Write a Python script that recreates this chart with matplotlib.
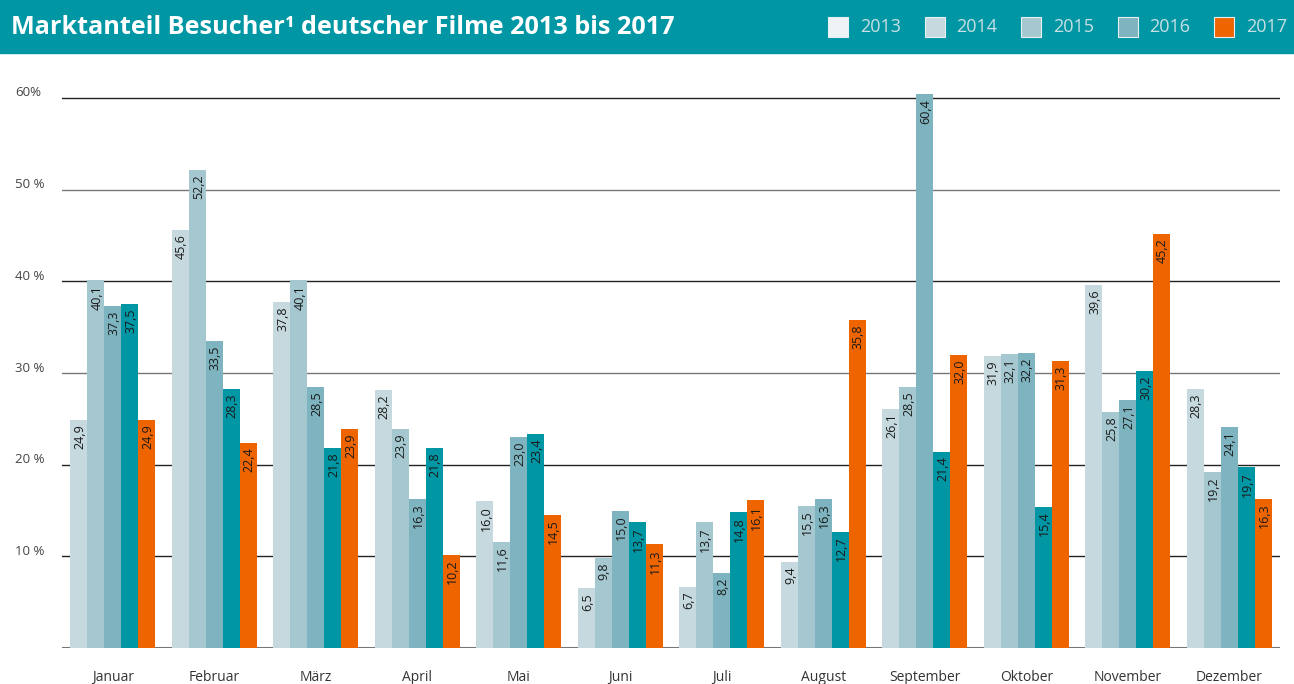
import numpy as np
import matplotlib
matplotlib.use("Agg")
import matplotlib.pyplot as plt
from matplotlib.patches import Rectangle

plt.rcParams['font.family'] = ['Open Sans', 'DejaVu Sans']

months = ["Januar", "Februar", "März", "April", "Mai", "Juni", "Juli",
          "August", "September", "Oktober", "November", "Dezember"]
years = ["2013", "2014", "2015", "2016", "2017"]
v2013 = [24.9, 45.6, 37.8, 28.2, 16.0, 6.5, 6.7, 9.4, 26.1, 31.9, 39.6, 28.3]
v2014 = [40.1, 52.2, 40.1, 23.9, 11.6, 9.8, 13.7, 15.5, 28.5, 32.1, 25.8, 19.2]
v2015 = [37.3, 33.5, 28.5, 16.3, 23.0, 15.0, 8.2, 16.3, 60.4, 32.2, 27.1, 24.1]
v2016 = [37.5, 28.3, 21.8, 21.8, 23.4, 13.7, 14.8, 12.7, 21.4, 15.4, 30.2, 19.7]
v2017 = [24.9, 22.4, 23.9, 10.2, 14.5, 11.3, 16.1, 35.8, 32.0, 31.3, 45.2, 16.3]
yticks = [10, 20, 30, 40, 50, 60]

series = [v2013, v2014, v2015, v2016, v2017]
bar_colors = ["#c5d9df", "#a5c8d0", "#7db4bf", "#0096a4", "#ee6500"]
legend_colors = ["#eef3f6", "#c5d9df", "#a5c8d0", "#7db4bf", "#ee6500"]
teal = "#0096a4"

W, H = 1294, 684
fig = plt.figure(figsize=(W / 100, H / 100), dpi=100)

# header band
fig.patches.append(Rectangle((0, 1 - 53 / H), 1, 53 / H, transform=fig.transFigure,
                             color=teal, zorder=0))
fig.text(11 / W, 1 - 27 / H, "Marktanteil Besucher¹ deutscher Filme 2013 bis 2017",
         color="white", fontsize=18.2, fontweight="bold", va="center", ha="left")

# legend in header
for i, (yr, c) in enumerate(zip(years, legend_colors)):
    x0 = 828 + i * 96.5
    fig.patches.append(Rectangle((x0 / W, 1 - 37 / H), 20 / W, 20 / H, transform=fig.transFigure,
                                 facecolor=c, edgecolor="#e8f0f2", linewidth=0.8, zorder=2))
    fig.text((x0 + 32) / W, 1 - 27 / H, yr, color="#c8e0e4", fontsize=13,
             va="center", ha="left")

ax_bottom, ax_top = 648, 80
ax = fig.add_axes([62 / W, 1 - ax_bottom / H, (1280 - 62) / W, (ax_bottom - ax_top) / H])
ymax = 60 * (ax_bottom - ax_top) / (648 - 98)
ax.set_ylim(0, ymax)
ax.set_xlim(-0.5, len(months) - 0.5)

bw = 1 / 6
x = np.arange(len(months))
for k, (vals, c) in enumerate(zip(series, bar_colors)):
    xs = x + (k - 2) * bw
    ax.bar(xs, vals, width=bw, color=c, zorder=3, linewidth=0)
    for xi, v in zip(xs, vals):
        ax.text(xi + 0.01, v - 0.5, f"{v:.1f}".replace(".", ","), rotation=90, ha="center", va="top",
                fontsize=9, color="#1a1a1a", zorder=4)

for t in yticks:
    ax.axhline(t, color="#222222" if t % 20 == 0 or t == 10 else "#777777",
               linewidth=1.0, zorder=1)
    lbl = "60%" if t == 60 else f"{t} %"
    fig.text(15 / W, 1 - (648 - t * (550 / 60)) / H + 5 / H, lbl, fontsize=9.5,
             color="#444444", ha="left", va="center")
ax.axhline(0, color="#777777", linewidth=1.5, zorder=1)

for s in ax.spines.values():
    s.set_visible(False)
ax.set_yticks([])
ax.set_xticks(x)
ax.set_xticklabels(months, fontsize=10, color="#333333")
ax.tick_params(axis="x", length=0, pad=16)

fig.savefig("out.png", dpi=100)
